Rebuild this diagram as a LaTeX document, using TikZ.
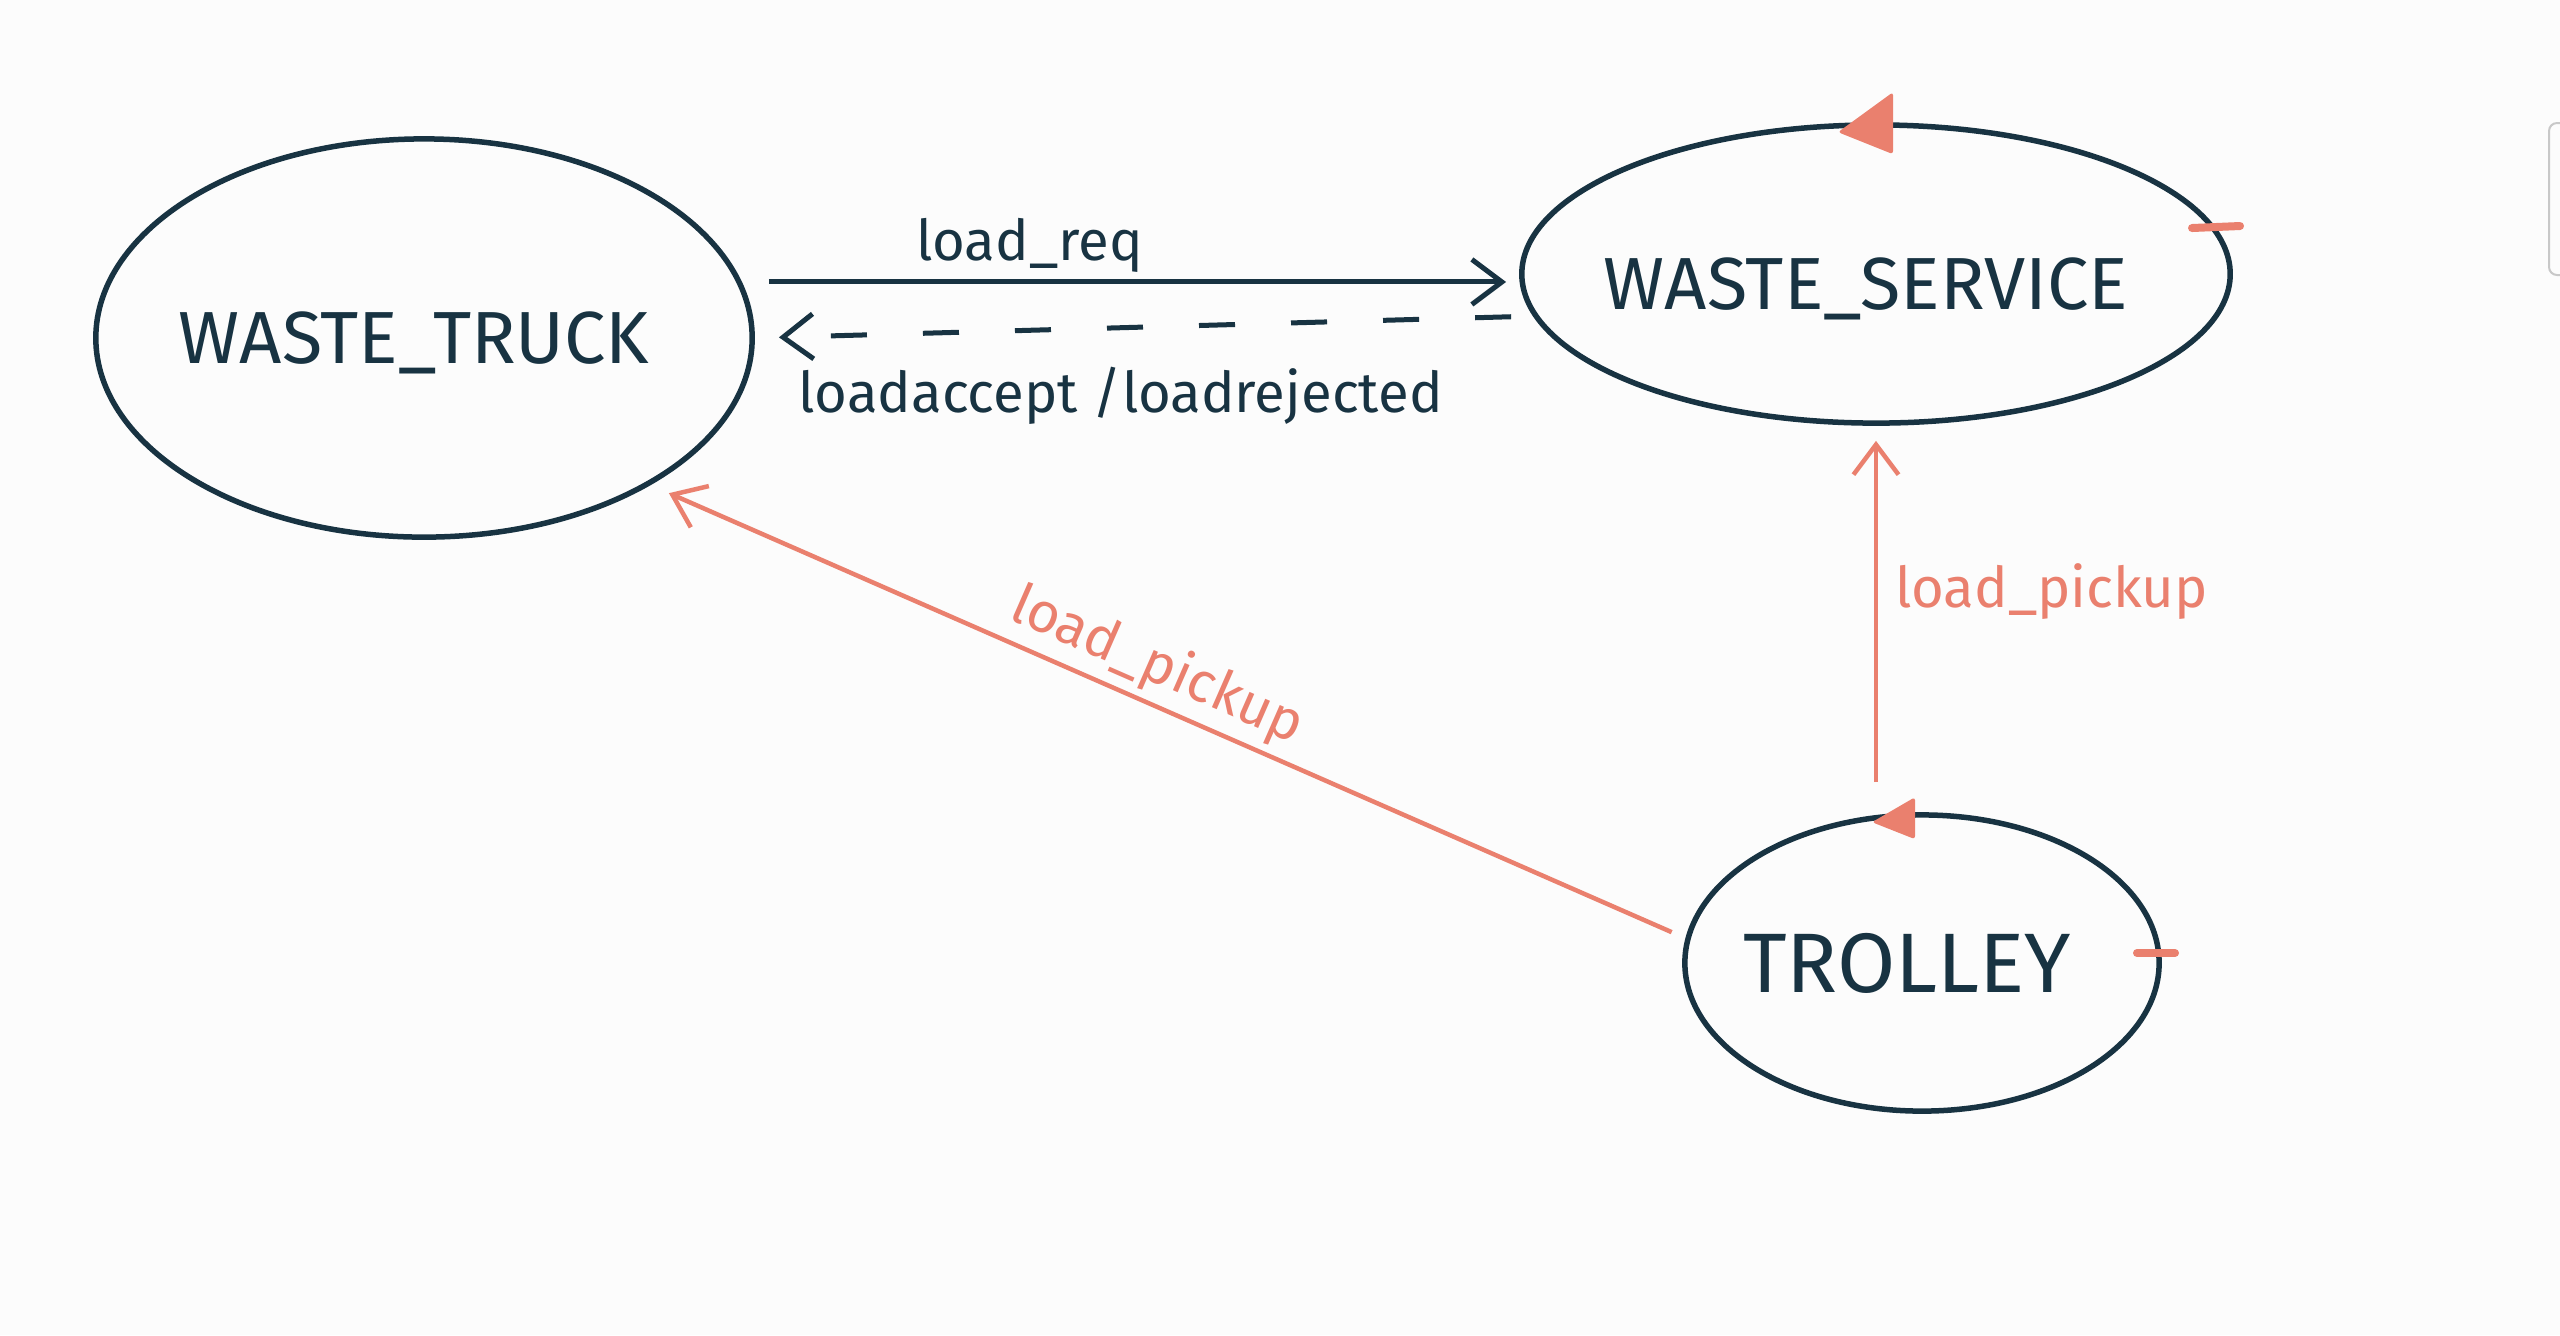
\documentclass[tikz,border=0pt]{standalone}
\usepackage{fontspec}
\setmainfont{Fira Sans}
\usepackage{tikz}
\usetikzlibrary{arrows.meta,calc,shapes.geometric}
\definecolor{ink}{RGB}{24,51,66}
\definecolor{pick}{RGB}{234,128,110}
\definecolor{paper}{RGB}{252,252,252}
\definecolor{frame}{RGB}{200,200,200}

\begin{document}
\begin{tikzpicture}[x=0.01cm, y=-0.01cm,
    state/.style={draw=ink, line width=0.055cm, ellipse, inner sep=0pt},
    statename/.style={text=ink, font=\fontsize{21}{25}\selectfont},
    tag/.style={inner sep=2pt, font=\fontsize{16}{19}\selectfont},
    msg/.style={draw=ink, line width=0.05cm},
    pickline/.style={draw=pick, line width=0.045cm},
    tip/.style={-{Straight Barb[length=0.3cm,width=0.45cm]}}
]
    %% Background
    \useasboundingbox (0,0) rectangle (2560,1335);
    \fill[paper] (0,0) rectangle (2560,1335);
    \draw[frame, line width=0.02cm, rounded corners=0.08cm] (2549,123) rectangle (2620,275);
    %% States
    \node[state, minimum width=6.56cm, minimum height=3.98cm,
        label={[statename, xshift=-0.1cm, yshift=-0.05cm]center:WASTE\_TRUCK}] (truck) at (424,338) {};
    \node[state, minimum width=7.08cm, minimum height=2.98cm,
        label={[statename, xshift=-0.1cm, yshift=-0.15cm]center:WASTE\_SERVICE}] (service) at (1876,274) {};
    \node[state, minimum width=4.74cm, minimum height=2.96cm,
        label={[statename, font=\fontsize{24}{28}\selectfont, xshift=-0.15cm]center:TROLLEY}] (trolley) at (1922,963) {};
    %% Messages
    \draw[msg, tip, shorten <=0.27cm, shorten >=0.13cm]
        (truck.10.7) -- (truck.10.7 -| service.west)
        node[tag, text=ink, above, pos=0.37] {load\_req};
    \draw[msg, tip, dash pattern=on 0.36cm off 0.56cm, shorten <=0.22cm, shorten >=0.24cm]
        (service.187.8) -- (truck.east)
        node[tag, text=ink, below=0.3cm, pos=0.53] {loadaccept /loadrejected};
    \draw[pickline, tip, shorten <=0.15cm, shorten >=0.2cm]
        (trolley.174.9) -- (truck.-33.1)
        node[tag, text=pick, sloped, above, pos=0.525] {load\_pickup};
    \draw[pickline, tip, shorten <=0.3cm, shorten >=0.15cm]
        (trolley.north -| service.south) -- (service.south)
        node[tag, text=pick, right=0.1cm, pos=0.57] {load\_pickup};
    %% Markers
    \fill[pick, rounded corners=0.03cm]
        ($(service.north)+(-38,10)$) -- ($(service.north)+(17,-30)$) -- ($(service.north)+(17,32)$) -- cycle;
    \fill[pick, rounded corners=0.03cm]
        ($(trolley.north)+(-50,10)$) -- ($(trolley.north)+(-7,-15)$) -- ($(trolley.north)+(-7,27)$) -- cycle;
    \draw[pick, line width=0.08cm, line cap=round]
        ($(service.center)+(316,-46)$) -- ($(service.center)+(364,-48)$);
    \draw[pick, line width=0.08cm, line cap=round]
        ($(trolley.center)+(215,-10)$) -- ($(trolley.center)+(253,-10)$);
\end{tikzpicture}
\end{document}
